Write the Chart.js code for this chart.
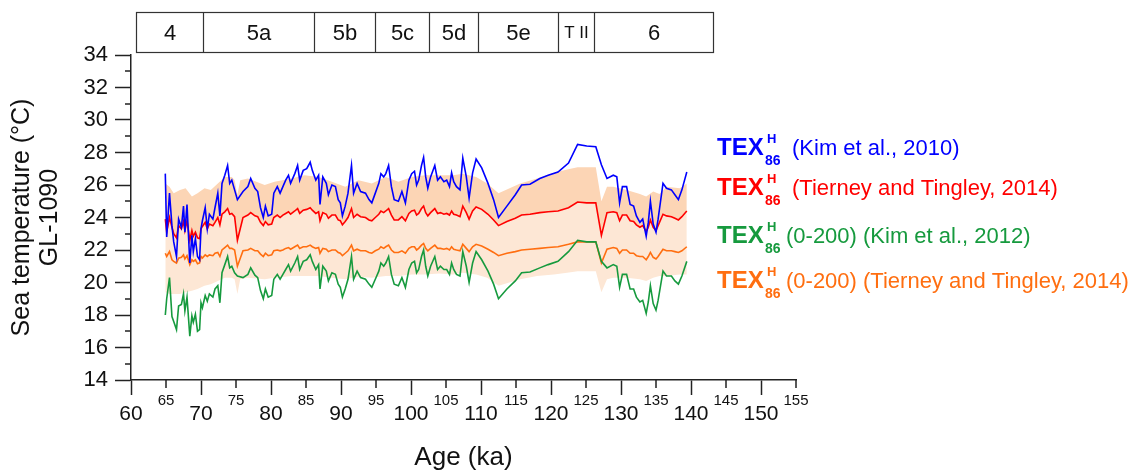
<!DOCTYPE html>
<html>
<head>
<meta charset="utf-8">
<script src="https://cdn.jsdelivr.net/npm/chart.js@4"></script>
<style>
  html, body { margin: 0; padding: 0; background: #fff; }
</style>
</head>
<body>
<canvas id="chart" width="1138" height="471"></canvas>
<script>
// sample ages (ka), shared by the four TEX86H records
const ages = [
  64.9, 65.1, 65.5, 65.85, 66.1, 66.5, 66.8, 67.2, 67.5, 67.7,
  68.0, 68.4, 68.7, 68.9, 69.2, 69.5, 69.8, 70.0, 70.2, 70.6,
  70.9, 71.2, 71.7, 72.0, 72.4, 72.7, 73.0, 73.4, 73.8, 74.1,
  74.4, 74.8, 75.2, 76.0, 76.7, 77.1, 77.7, 78.1, 78.5, 78.9,
  79.2, 79.6, 80.1, 80.4, 80.9, 81.3, 81.7, 82.1, 82.5, 82.8,
  83.4, 83.8, 84.1, 84.6, 85.1, 85.6, 85.9, 86.4, 86.8, 87.0,
  87.4, 87.9, 88.2, 88.7, 89.2, 89.6, 89.9, 90.2, 90.6, 91.0,
  91.5, 91.8, 92.3, 92.8, 93.5, 94.0, 94.4, 94.9, 95.4, 95.7,
  96.1, 96.4, 96.8, 97.2, 97.6, 98.2, 98.7, 99.2, 99.7, 100.1,
  100.5, 100.8, 101.1, 101.5, 101.8, 102.1, 102.4, 102.8, 103.4, 103.8,
  104.2, 104.7, 105.1, 105.5, 105.8, 106.1, 106.5, 107.0, 107.4, 107.9,
  108.3, 108.8, 109.3, 110.1, 111.0, 111.8, 112.5, 113.7, 114.9, 115.8,
  117.0, 118.4, 119.6, 121.0, 122.5, 123.8, 125.1, 126.4, 127.2, 128.0,
  128.9, 129.4, 129.8, 130.2, 130.8, 131.3, 131.8, 132.2, 132.7, 133.1,
  133.6, 133.9, 134.2, 134.6, 135.0, 135.3, 136.0, 136.5, 137.2, 137.7,
  138.2, 138.7, 139.4
]

// TEX86H (Kim et al., 2010)
const kim2010 = [
  26.7, 22.8, 25.5, 23.5, 22.5, 21.6, 23.9, 23.4, 24.7, 23.1,
  24.8, 21.2, 22.9, 21.9, 22.7, 21.6, 21.4, 23.3, 23.8, 24.6,
  23.3, 24.2, 23.9, 24.6, 25.5, 24.1, 26.1, 26.6, 27.2, 26.1,
  26.3, 25.7, 25.1, 25.6, 25.9, 26.4, 25.8, 25.6, 24.6, 24.0,
  24.7, 24.1, 24.2, 25.5, 25.9, 25.5, 25.9, 26.3, 26.6, 26.1,
  26.7, 27.2, 26.3, 26.9, 27.0, 27.4, 26.9, 26.3, 26.6, 24.8,
  26.5, 26.1, 25.4, 26.0, 25.9, 25.1, 24.9, 24.1, 24.7, 25.5,
  27.2, 25.5, 26.1, 25.6, 25.5, 25.1, 24.9, 25.5, 26.1, 26.7,
  26.5, 26.7, 27.2, 25.9, 25.1, 25.0, 25.6, 24.9, 26.3, 26.7,
  26.85, 26.0, 26.3, 27.2, 27.7, 26.5, 25.8, 26.5, 27.2, 26.3,
  26.5, 26.2, 26.3, 25.9, 26.75, 26.2, 25.9, 25.7, 27.65, 26.5,
  25.2, 26.75, 27.6, 27.05, 26.1, 25.1, 24.0, 24.7, 25.4, 26.0,
  26.05, 26.4, 26.6, 26.8, 27.35, 28.5, 28.4, 28.35, 27.25, 26.4,
  26.6, 26.5, 24.9, 25.9, 25.9, 24.8, 24.7, 24.1, 23.7, 23.9,
  22.85, 23.7, 25.0, 23.6, 23.1, 23.9, 26.1, 25.8, 25.7, 25.4,
  25.1, 25.7, 26.8
]

// TEX86H (Tierney and Tingley, 2014)
const tierney = [
  23.9, 23.1, 24.0, 23.4, 23.0, 22.75, 23.5, 23.3, 23.75, 23.2,
  23.8, 22.6, 23.2, 22.85, 23.1, 22.75, 22.7, 23.3, 23.45, 23.7,
  23.3, 23.6, 23.5, 23.7, 24.0, 23.55, 24.2, 24.35, 24.55, 24.2,
  24.25, 24.05, 22.6, 24.0, 24.15, 24.3, 24.1, 24.05, 23.7, 23.5,
  23.75, 23.55, 23.6, 24.0, 24.15, 24.0, 24.15, 24.25, 24.35, 24.2,
  24.4, 24.55, 24.25, 24.45, 24.5, 24.6, 24.45, 24.25, 24.35, 23.8,
  24.3, 24.2, 23.95, 24.15, 24.15, 23.85, 23.8, 23.55, 23.75, 24.0,
  24.55, 24.0, 24.2, 24.05, 24.0, 23.85, 23.8, 24.0, 24.2, 24.4,
  24.3, 24.4, 24.55, 24.15, 23.85, 23.85, 24.05, 23.8, 24.25, 24.4,
  24.45, 24.15, 24.25, 24.55, 24.7, 24.3, 24.1, 24.3, 24.55, 24.25,
  24.3, 24.2, 24.25, 24.15, 24.4, 24.2, 24.15, 24.05, 24.7, 24.3,
  23.9, 24.4, 24.65, 24.5, 24.2, 23.85, 23.5, 23.75, 23.95, 24.15,
  24.2, 24.3, 24.35, 24.4, 24.6, 24.95, 24.9, 24.9, 22.9, 24.3,
  24.35, 24.3, 23.8, 24.15, 24.15, 23.8, 23.75, 23.55, 23.4, 23.5,
  23.15, 23.4, 23.85, 23.4, 23.2, 23.5, 24.2, 24.1, 24.05, 23.95,
  23.85, 24.05, 24.4
]

// TEX86H(0-200) (Kim et al., 2012)
const kim2012 = [
  18.0, 19.0, 20.3, 17.9, 17.6, 17.1, 18.55, 18.65, 19.3, 18.25,
  19.1, 16.7, 17.95, 17.55, 18.05, 17.0, 17.1, 18.75, 18.45, 19.2,
  18.85, 19.3, 19.1, 19.6, 19.8, 18.75, 20.6, 21.1, 21.6, 20.9,
  21.0, 20.6, 20.4, 20.3, 20.5, 20.9, 20.45, 20.3, 19.5, 19.0,
  19.6, 19.1, 19.2, 20.2, 20.5, 20.2, 20.5, 20.8, 21.1, 20.7,
  21.2, 21.6, 20.8, 21.3, 21.4, 21.7, 21.3, 20.8, 21.1, 19.6,
  21.0, 20.7, 20.1, 20.6, 20.5, 19.9, 19.7, 19.1, 19.6, 20.2,
  21.6, 20.2, 20.7, 20.3, 20.2, 19.9, 19.7, 20.2, 20.7, 21.2,
  21.0, 21.2, 21.6, 20.5, 19.9, 19.8, 20.3, 19.7, 20.8, 21.2,
  21.3, 20.6, 20.8, 21.6, 22.0, 21.0, 20.4, 21.0, 21.6, 20.8,
  21.0, 20.8, 20.8, 20.5, 21.2, 20.8, 20.5, 20.4, 21.9, 21.0,
  20.0, 21.2, 21.9, 21.4, 20.7, 19.9, 19.0, 19.6, 20.1, 20.6,
  20.65, 20.9, 21.1, 21.3, 21.9, 22.6, 22.5, 22.5, 21.3, 20.9,
  21.1, 21.0, 19.7, 20.5, 20.5, 19.6, 19.6, 19.1, 18.8, 18.9,
  18.1, 18.8, 19.8, 18.7, 18.3, 18.9, 20.7, 20.4, 20.4, 20.1,
  19.9, 20.4, 21.3
]

// TEX86H(0-200) (Tierney and Tingley, 2014)
const tierney200 = [
  21.8, 21.6, 21.9, 21.4, 21.3, 21.2, 21.5, 21.55, 21.7, 21.45,
  21.65, 21.1, 21.4, 21.3, 21.4, 21.15, 21.2, 21.6, 21.5, 21.7,
  21.6, 21.7, 21.65, 21.8, 21.85, 21.6, 22.0, 22.15, 22.3, 22.1,
  22.1, 22.0, 21.0, 21.95, 22.0, 22.1, 21.95, 21.95, 21.75, 21.6,
  21.8, 21.65, 21.7, 21.95, 22.0, 21.95, 22.0, 22.1, 22.15, 22.05,
  22.2, 22.3, 22.1, 22.2, 22.2, 22.3, 22.2, 22.1, 22.15, 21.8,
  22.1, 22.05, 21.9, 22.0, 22.0, 21.85, 21.8, 21.65, 21.8, 21.95,
  22.3, 21.95, 22.05, 21.95, 21.95, 21.85, 21.8, 21.95, 22.05, 22.2,
  22.1, 22.2, 22.3, 22.0, 21.85, 21.85, 21.95, 21.8, 22.1, 22.2,
  22.2, 22.0, 22.1, 22.3, 22.4, 22.1, 21.95, 22.1, 22.3, 22.1,
  22.1, 22.05, 22.1, 22.0, 22.2, 22.05, 22.0, 21.95, 22.35, 22.1,
  21.9, 22.2, 22.35, 22.25, 22.05, 21.85, 21.65, 21.8, 21.9, 22.0,
  22.05, 22.1, 22.15, 22.2, 22.35, 22.5, 22.5, 22.5, 21.2, 22.05,
  22.15, 22.1, 21.8, 22.0, 22.0, 21.8, 21.8, 21.65, 21.6, 21.6,
  21.4, 21.6, 21.85, 21.55, 21.45, 21.6, 22.05, 21.95, 21.95, 21.9,
  21.85, 21.95, 22.2
]

// uncertainty envelope
const bandAges = [
  64.9, 65.5, 66.1, 67.0, 67.8, 68.7, 69.5, 70.5, 71.4, 72.4,
  73.4, 74.4, 74.8, 75.2, 75.6, 76.7, 79.1, 80.5, 82.9, 84.8,
  86.8, 88.7, 90.6, 92.5, 94.4, 96.4, 98.2, 100.1, 102.0, 104.0,
  106.0, 107.4, 109.3, 110.9, 112.5, 115.6, 118.0, 120.4, 122.3, 123.8,
  126.4, 127.2, 128.0, 128.9, 130.8, 132.7, 133.6, 134.6, 135.5, 136.5,
  138.4, 139.4
]
const bandUpper = [
  26.1, 25.9, 25.5, 25.7, 25.8, 25.3, 25.5, 25.8, 25.7, 26.1,
  26.5, 26.5, 26.3, 25.4, 26.3, 26.4, 26.0, 26.2, 26.4, 26.6,
  26.5, 26.2, 25.9, 26.3, 26.1, 26.5, 26.2, 26.5, 26.6, 26.6,
  26.6, 26.7, 26.5, 26.1, 25.5, 26.1, 26.4, 26.75, 26.95, 27.1,
  27.1, 25.0, 25.9, 25.9, 25.7, 25.45, 25.3, 25.6, 25.45, 25.9,
  25.8, 26.1
]
const bandLower = [
  19.4, 19.3, 19.3, 19.3, 19.4, 19.5, 19.6, 19.8, 19.9, 20.1,
  20.3, 20.3, 20.2, 19.3, 20.2, 20.3, 20.2, 20.3, 20.4, 20.4,
  20.4, 20.3, 20.2, 20.35, 20.3, 20.4, 20.4, 20.5, 20.5, 20.55,
  20.5, 20.6, 20.5, 20.3, 19.8, 20.2, 20.4, 20.5, 20.6, 20.7,
  20.7, 19.4, 20.2, 20.3, 20.3, 20.2, 20.1, 20.3, 20.4, 20.4,
  20.5, 20.5
]

// marine isotope stages along the top
const misEdges = [60.7, 70.3, 86.1, 94.8, 102.5, 109.6, 121.0, 126.1, 143.1]
const misLabels = ["4", "5a", "5b", "5c", "5d", "5e", "T II", "6"]

const legendTails = [
  "(Kim et al., 2010)",
  "(Tierney and Tingley, 2014)",
  "(0-200) (Kim et al., 2012)",
  "(0-200) (Tierney and Tingley, 2014)"
]

const BLUE = "#0000ff"
const RED = "#ff0000"
const GREEN = "#169a3e"
const ORANGE = "#ff6e10"
const AXIS = "#222"
const FONT = "'Liberation Sans', Arial, Helvetica, sans-serif"

const pts = (xs, ys) => xs.map((x, i) => ({ x, y: ys[i] }))

Chart.defaults.font.family = FONT
Chart.defaults.color = "#111"

const minorTicks = {
  id: "minorTicks",
  afterDraw(chart) {
    const { ctx, scales: { x, y } } = chart
    ctx.save()
    ctx.strokeStyle = AXIS
    ctx.lineWidth = 1.5
    ctx.beginPath()
    x.ticks.forEach(t => {
      if (t.value % 10 === 0) return
      const px = Math.round(x.getPixelForValue(t.value))
      ctx.moveTo(px, x.top)
      ctx.lineTo(px, x.top + 8)
    })
    y.ticks.forEach(t => {
      if (t.value % 2 === 0) return
      const py = Math.round(y.getPixelForValue(t.value))
      ctx.moveTo(y.right, py)
      ctx.lineTo(y.right - 6, py)
    })
    ctx.stroke()
    ctx.restore()
  }
}

const misBox = {
  id: "misBox",
  afterDraw(chart) {
    const { ctx, scales: { x } } = chart
    const top = 12.5, bottom = 52.5
    const xs = misEdges.map(v => Math.round(x.getPixelForValue(v)) + 0.5)
    ctx.save()
    ctx.strokeStyle = "#333"
    ctx.lineWidth = 1.2
    ctx.strokeRect(xs[0], top, xs[xs.length - 1] - xs[0], bottom - top)
    ctx.beginPath()
    for (let i = 1; i < xs.length - 1; i++) {
      ctx.moveTo(xs[i], top)
      ctx.lineTo(xs[i], bottom)
    }
    ctx.stroke()
    ctx.fillStyle = "#111"
    ctx.textAlign = "center"
    ctx.textBaseline = "middle"
    misLabels.forEach((lab, i) => {
      ctx.font = (lab === "T II" ? "17px " : "22px ") + FONT
      ctx.fillText(lab, (xs[i] + xs[i + 1]) / 2, (top + bottom) / 2 + 1)
    })
    ctx.restore()
  }
}

const texLegend = {
  id: "texLegend",
  afterDraw(chart) {
    const { ctx } = chart
    const colors = [BLUE, RED, GREEN, ORANGE]
    const baselines = [155, 195, 243, 288]
    ctx.save()
    ctx.textBaseline = "alphabetic"
    ctx.textAlign = "left"
    legendTails.forEach((tail, i) => {
      const b = baselines[i]
      ctx.fillStyle = colors[i]
      ctx.font = "bold 24px " + FONT
      ctx.fillText("TEX", 717, b)
      ctx.font = "bold 13px " + FONT
      ctx.fillText("H", 767, b - 12)
      ctx.font = "bold 14px " + FONT
      ctx.fillText("86", 765, b + 10)
      ctx.font = "22px " + FONT
      ctx.fillText(tail, i < 2 ? 792 : 786, b)
    })
    ctx.restore()
  }
}

const line = (data, color, order) => ({
  data, borderColor: color, borderWidth: 1.6, pointRadius: 0, tension: 0, fill: false, order
})

new Chart(document.getElementById("chart"), {
  type: "line",
  data: {
    datasets: [
      line(pts(ages, kim2010), BLUE, 1),
      line(pts(ages, tierney), RED, 2),
      line(pts(ages, kim2012), GREEN, 3),
      line(pts(ages, tierney200), ORANGE, 4),
      {
        data: pts(bandAges, bandUpper), borderWidth: 0, pointRadius: 0,
        backgroundColor: "#fcd5b5", fill: 1, order: 10
      },
      {
        data: pts(bandAges, bandLower), borderWidth: 0, pointRadius: 0,
        backgroundColor: "#fde7d5", fill: 1, order: 11
      }
    ]
  },
  options: {
    responsive: false,
    animation: false,
    layout: { padding: { top: 55, right: 342, left: 0, bottom: 0 } },
    plugins: { legend: { display: false }, tooltip: { enabled: false } },
    scales: {
      x: {
        type: "linear", min: 60, max: 155,
        border: { color: AXIS, width: 1.5 },
        grid: {
          drawOnChartArea: false, tickLength: 15, tickWidth: 1.5,
          tickColor: c => (c.tick && c.tick.value % 10 === 0 ? AXIS : "rgba(0,0,0,0)")
        },
        ticks: {
          stepSize: 5, autoSkip: false, maxRotation: 0, padding: 0, color: "#111",
          font: c => (c.tick && c.tick.value % 10 === 0
            ? { size: 21, lineHeight: 1.86 }
            : { size: 15, lineHeight: 0.8 })
        },
        title: { display: true, text: "Age (ka)", color: "#111", font: { size: 26, lineHeight: 1 }, padding: 0 },
        afterFit: s => { s.height = 91 }
      },
      y: {
        min: 14, max: 34,
        border: { color: AXIS, width: 1.5 },
        grid: {
          drawOnChartArea: false, tickLength: 16, tickWidth: 1.5,
          tickColor: c => (c.tick && c.tick.value % 2 === 0 ? AXIS : "rgba(0,0,0,0)")
        },
        ticks: {
          stepSize: 1, autoSkip: false, padding: 7, color: "#111", font: { size: 22 },
          callback: v => (v % 2 === 0 ? v : "")
        },
        title: {
          display: true, text: ["Sea temperature (°C)", "GL-1090"], color: "#111",
          font: { size: 25, lineHeight: 1.12 }, padding: { top: 8, bottom: 0 }
        },
        afterFit: s => { s.width = 131 }
      }
    }
  },
  plugins: [minorTicks, misBox, texLegend]
})
</script>
</body>
</html>
